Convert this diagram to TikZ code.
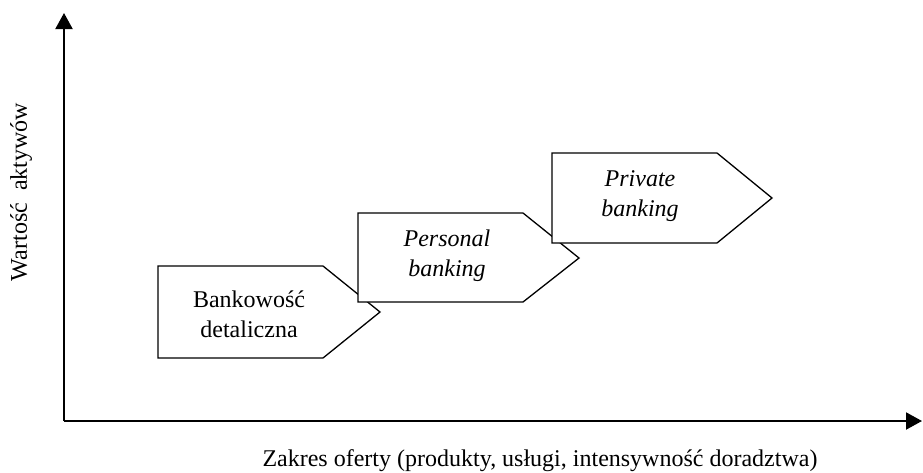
\documentclass[tikz,border=0pt]{standalone}
\usepackage{fontspec}
\setmainfont{Liberation Serif}
\usetikzlibrary{arrows.meta}
\tikzset{
  axis/.style = {line width=2pt, -{Triangle[length=16pt, width=17pt]}},
  tab/.style = {draw, fill=white, line width=1.3pt, line join=miter},
  txt/.style = {font=\fontsize{24}{30}\selectfont, align=center, inner sep=0pt}
}
\begin{document}
\begin{tikzpicture}[x=1pt, y=-1pt]
  \useasboundingbox (0,0) rectangle (923,472);
  % axes
  \coordinate (O) at (64,421);
  \coordinate (ytip) at (64,13);
  \coordinate (xtip) at (922,421);
  \draw[axis] (O) -- (ytip);
  \draw[axis] (O) -- (xtip);
  \node[txt, rotate=90] (ylab) at (21,192) {Wartość\ \ aktywów};
  \node[txt] (xlab) at (540,461) {Zakres oferty (produkty, usługi, intensywność doradztwa)};
  % tabs
  \draw[tab] (158,266) -- (323,266) -- (380,312) -- (323,358) -- (158,358) -- cycle;
  \node[txt] (retail) at (249,314) {Bankowość\\detaliczna};
  \draw[tab] (358,213) -- (523,213) -- (579,258) -- (523,302) -- (358,302) -- cycle;
  \node[txt, font=\fontsize{24}{30}\selectfont\itshape] (personal) at (447,256) {Personal\\banking};
  \draw[tab] (552,153) -- (717,153) -- (772,198) -- (717,243) -- (552,243) -- cycle;
  \node[txt, font=\fontsize{24}{30}\selectfont\itshape] (private) at (640,196) {Private\\banking};
\end{tikzpicture}
\end{document}
